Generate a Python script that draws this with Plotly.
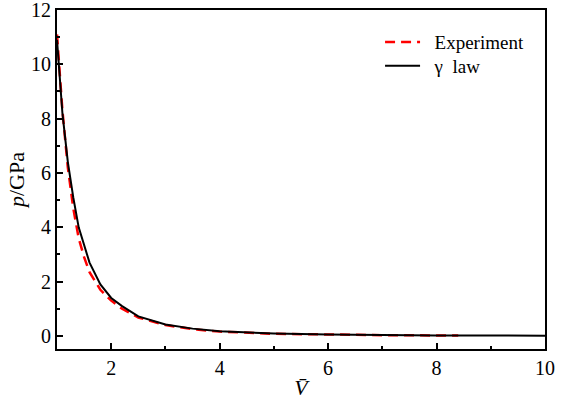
import plotly.graph_objects as go

exp_v = [1.0, 1.05, 1.1, 1.2, 1.3, 1.4, 1.5, 1.6, 1.8, 2.0, 2.2, 2.5, 3.0, 3.5, 4.0, 5.0, 6.0, 7.0, 8.0, 8.4]
exp_p = [11.1, 9.6, 8.3, 6.2, 4.7, 3.6, 2.9, 2.35, 1.7, 1.3, 1.0, 0.68, 0.40, 0.25, 0.16, 0.08, 0.05, 0.03, 0.02, 0.02]

gam_v = [1.0, 1.05, 1.1, 1.2, 1.3, 1.4, 1.5, 1.6, 1.8, 2.0, 2.2, 2.5, 3.0, 3.5, 4.0, 5.0, 6.0, 7.0, 8.0, 10.0]
gam_p = [10.9, 9.4, 8.2, 6.4, 5.1, 4.0, 3.3, 2.7, 1.9, 1.4, 1.1, 0.72, 0.42, 0.27, 0.17, 0.09, 0.05, 0.03, 0.02, 0.01]

x_ticks = [2, 4, 6, 8, 10]
y_ticks = [0, 2, 4, 6, 8, 10, 12]

font = "Liberation Serif"

fig = go.Figure()
fig.add_trace(go.Scatter(x=exp_v, y=exp_p, mode="lines", name="\u2002Experiment",
                         line=dict(color="#ff0000", width=2.5, dash="10px,6px"),
                         legend="legend"))
fig.add_trace(go.Scatter(x=gam_v, y=gam_p, mode="lines", name="\u2002\u03b3  law",
                         line=dict(color="black", width=2), legend="legend2"))

axis_common = dict(showgrid=False, zeroline=False, showline=True, linecolor="black",
                   linewidth=2, mirror=True, ticks="inside", ticklen=6, tickwidth=1.5,
                   tickcolor="black", tickfont=dict(family=font, size=20, color="black"),
                   automargin=False, ticklabeloverflow="allow")

leg_common = dict(xanchor="left", yanchor="middle", bgcolor="rgba(0,0,0,0)",
                  font=dict(family=font, size=19, color="black"), itemwidth=35)

fig.update_layout(
    width=570, height=402,
    margin=dict(l=57, r=25, t=10, b=53),
    paper_bgcolor="white", plot_bgcolor="white",
    font=dict(family=font, size=20, color="black"),
    showlegend=True,
    legend=dict(x=0.662, y=0.905, **leg_common),
    legend2=dict(x=0.662, y=0.835, **leg_common),
    xaxis=dict(range=[1, 10], tickvals=x_ticks, ticktext=[str(t) for t in x_ticks],
               minor=dict(tickvals=[1, 3, 5, 7, 9], ticks="inside", ticklen=3, tickcolor="black"),
               title=dict(text="<i>V\u0304</i>", font=dict(family=font, size=22), standoff=2),
               **axis_common),
    yaxis=dict(range=[-0.48, 12], tickvals=y_ticks, ticktext=[str(t) for t in y_ticks],
               minor=dict(tickvals=[1, 3, 5, 7, 9, 11], ticks="inside", ticklen=3, tickcolor="black"),
               title=dict(text="<i>p</i>/GPa", font=dict(family=font, size=22), standoff=0),
               **axis_common),
)

fig.write_html("out.html")
